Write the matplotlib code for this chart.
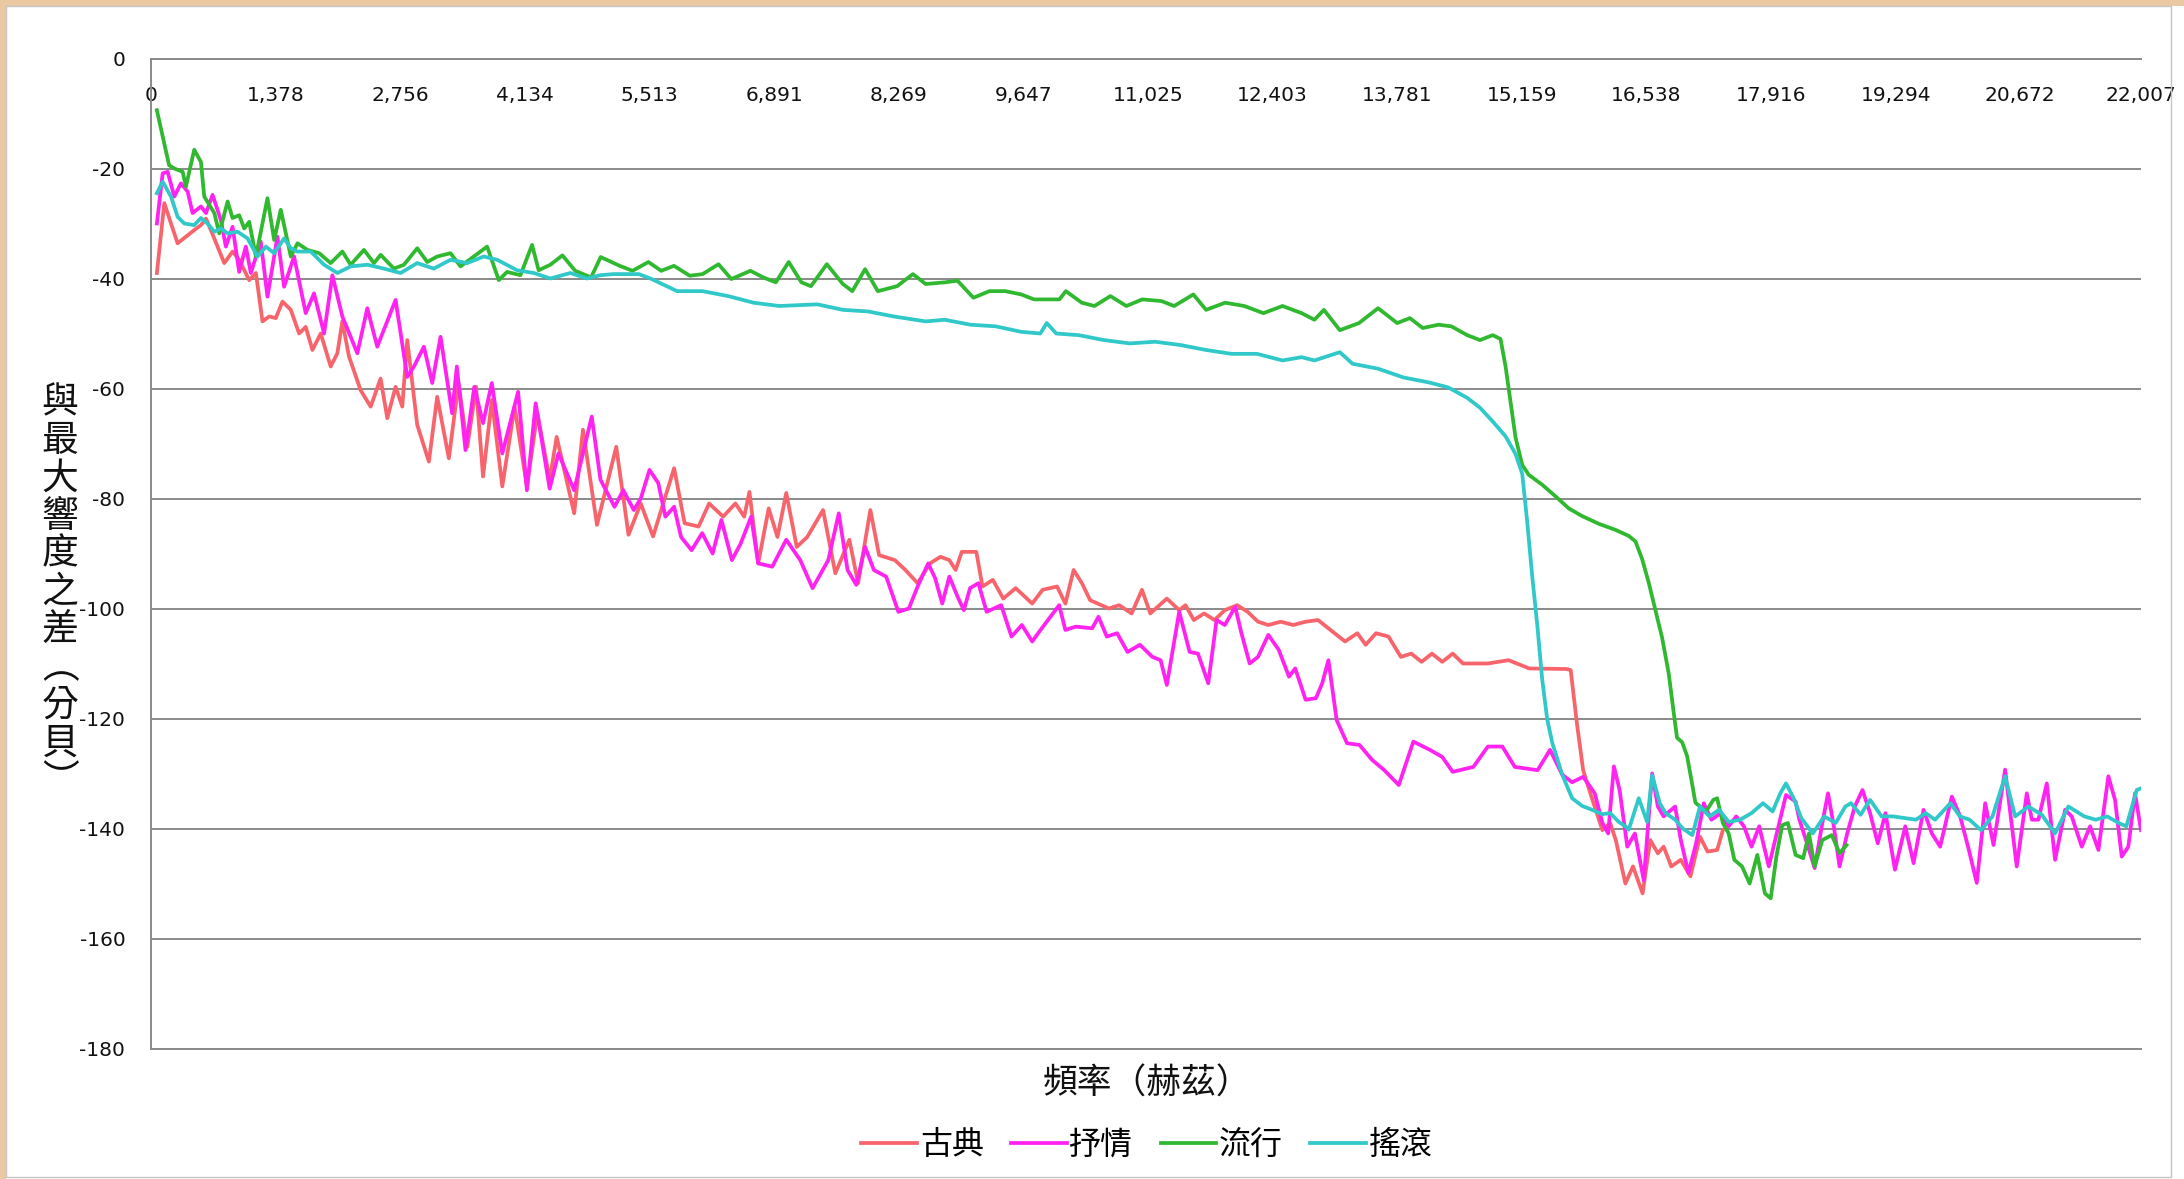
import matplotlib
matplotlib.use("Agg")
import matplotlib.pyplot as plt
from matplotlib.patches import Rectangle

plt.rcParams['font.family'] = ['Noto Sans CJK TC', 'DejaVu Sans']
plt.rcParams['axes.unicode_minus'] = False

W, H = 2184, 1179

genres = ["古典", "抒情", "流行", "搖滾"]
colors = ["#f8646c", "#ff22f0", "#30b830", "#30c8c8"]

tick_hz = [0, 1378, 2756, 4134, 5513, 6891, 8269, 9647, 11025, 12403,
           13781, 15159, 16538, 17916, 19294, 20672, 22007]
y_ticks = [0, -20, -40, -60, -80, -100, -120, -140, -160, -180]

y_title = "與最大響度之差︵分貝︶"
x_title = "頻率（赫茲）"

# 古典
classical_hz = [65, 147, 294, 478, 552, 608, 662, 810, 902, 975,
                1086, 1160, 1233, 1307, 1380, 1454, 1546, 1638, 1711, 1785,
                1877, 1987, 2061, 2116, 2190, 2318, 2429, 2539, 2613, 2705,
                2779, 2834, 2944, 3073, 3165, 3294, 3401, 3498, 3595, 3672,
                3769, 3885, 4021, 4157, 4273, 4409, 4486, 4680, 4777, 4932,
                5145, 5281, 5416, 5552, 5785, 5901, 6056, 6172, 6327, 6463,
                6560, 6618, 6715, 6831, 6928, 7025, 7141, 7257, 7432, 7568,
                7723, 7820, 7955, 8052, 8226, 8343, 8478, 8614, 8730, 8829,
                8898, 8966, 9127, 9195, 9310, 9425, 9562, 9745, 9860, 10020,
                10112, 10203, 10295, 10386, 10593, 10707, 10845, 10959, 11051, 11234,
                11371, 11440, 11532, 11646, 11761, 11875, 12013, 12127, 12242, 12356,
                12494, 12631, 12769, 12906, 13021, 13204, 13341, 13433, 13547, 13685,
                13822, 13937, 14051, 14166, 14280, 14395, 14509, 14784, 15013, 15242,
                15654, 15700, 15769, 15838, 15929, 16051, 16136, 16199, 16305, 16389,
                16495, 16580, 16664, 16728, 16812, 16918, 17024, 17130, 17214, 17320,
                17383]
classical_db = [-39, -26.3, -33.6, -31.2, -30.3, -29.1, -31.2, -37.2, -35.1, -36.6,
                -40.3, -39, -47.8, -46.9, -47.2, -44.2, -45.7, -50, -48.8, -53,
                -50, -56, -53.6, -47.8, -54.2, -60.3, -63.3, -58.2, -65.4, -59.7,
                -63.3, -51.2, -66.6, -73.3, -61.5, -72.7, -59, -70.6, -59.7, -76,
                -62.1, -77.8, -63.3, -77.8, -64.5, -76.6, -68.8, -82.7, -67.5, -84.8,
                -70.6, -86.6, -80.9, -86.9, -74.5, -84.5, -85.1, -80.9, -83.3, -80.9,
                -83.3, -78.8, -91.8, -81.8, -87, -79, -88.8, -87, -82.1, -93.6,
                -87.5, -95.4, -82.1, -90.3, -91.2, -93, -95.4, -91.8, -90.6, -91.2,
                -93, -89.7, -89.7, -96, -94.8, -98.2, -96.3, -99.1, -96.6, -96,
                -99.1, -93, -95.4, -98.5, -100, -99.4, -100.9, -96.6, -100.9, -98.2,
                -100.3, -99.4, -102.1, -100.9, -102.1, -100.3, -99.4, -100.6, -102.4, -103,
                -102.4, -103, -102.4, -102.1, -103.6, -106, -104.5, -106.6, -104.5, -105.1,
                -108.8, -108.2, -109.7, -108.2, -109.7, -108.2, -110, -110, -109.4, -110.9,
                -111, -111.2, -120.9, -129.4, -134.2, -140.3, -139, -142.1, -150, -146.9,
                -151.8, -142.1, -144.5, -143.3, -146.9, -145.7, -148.7, -141.5, -144.2, -143.9,
                -140.3]

# 抒情
lyric_hz = [65, 129, 184, 258, 331, 405, 460, 552, 608, 681,
            773, 828, 902, 975, 1049, 1104, 1214, 1288, 1398, 1472,
            1582, 1711, 1803, 1914, 2006, 2116, 2282, 2392, 2502, 2705,
            2834, 2908, 3018, 3110, 3202, 3330, 3382, 3478, 3575, 3672,
            3769, 3885, 4060, 4157, 4254, 4409, 4506, 4680, 4874, 4971,
            5126, 5223, 5339, 5416, 5513, 5610, 5688, 5785, 5862, 5978,
            6095, 6211, 6308, 6424, 6521, 6637, 6715, 6870, 7025, 7180,
            7316, 7490, 7606, 7703, 7800, 7897, 7994, 8130, 8265, 8381,
            8478, 8595, 8672, 8750, 8829, 8921, 8989, 9058, 9150, 9241,
            9402, 9516, 9631, 9745, 9837, 10043, 10112, 10226, 10409, 10478,
            10570, 10684, 10799, 10936, 11074, 11165, 11234, 11371, 11486, 11578,
            11692, 11784, 11875, 11990, 12059, 12150, 12242, 12356, 12471, 12585,
            12654, 12769, 12883, 12952, 13021, 13112, 13227, 13364, 13502, 13639,
            13799, 13960, 14143, 14280, 14395, 14624, 14784, 14944, 15082, 15334,
            15472, 15606, 15716, 15838, 15966, 16051, 16115, 16178, 16241, 16326,
            16410, 16508, 16601, 16664, 16728, 16855, 16918, 17002, 17087, 17172,
            17256, 17362, 17447, 17531, 17616, 17700, 17785, 17891, 17997, 18081,
            18187, 18229, 18314, 18398, 18483, 18546, 18610, 18673, 18758, 18842,
            18927, 19011, 19096, 19181, 19286, 19400, 19492, 19602, 19694, 19786,
            19915, 20007, 20099, 20191, 20284, 20376, 20504, 20633, 20744, 20800,
            20873, 20965, 21057, 21168, 21241, 21352, 21444, 21536, 21646, 21720,
            21794, 21867, 21941, 22007]
lyric_db = [-30, -20.9, -20.6, -25.1, -22.7, -24.2, -28.1, -26.9, -28.1, -24.8,
            -29.4, -34.2, -30.6, -38.8, -34.2, -39, -33.3, -43.3, -32.4, -41.5,
            -36, -46.3, -42.7, -50, -39.4, -46.9, -53.6, -45.4, -52.4, -43.9,
            -57.9, -56, -52.4, -59, -50.6, -64.5, -56, -71.2, -59.7, -66.3,
            -59, -71.8, -60.6, -78.5, -62.7, -78.2, -71.8, -78.5, -65.1, -76.6,
            -81.5, -78.5, -82.1, -80, -74.8, -77.2, -83.3, -81.5, -87, -89.4,
            -86.3, -90, -83.9, -91.2, -88.2, -83.3, -91.8, -92.4, -87.5, -91.2,
            -96.3, -91.2, -82.7, -93, -95.7, -88.8, -93, -94.2, -100.6, -100,
            -96, -91.8, -94.5, -99.1, -94.2, -97.9, -100.3, -96.3, -95.4, -100.6,
            -99.4, -105.1, -103, -106, -103.9, -99.4, -103.9, -103.3, -103.6, -101.5,
            -105.1, -104.5, -107.9, -106.6, -108.8, -109.4, -113.9, -100.6, -107.9, -108.2,
            -113.6, -102.1, -103, -99.7, -104.5, -110, -108.8, -104.8, -107.5, -112.4,
            -110.9, -116.6, -116.3, -113.6, -109.4, -120.3, -124.5, -124.8, -127.5, -129.4,
            -132.1, -124.2, -125.7, -127, -129.7, -128.8, -125.1, -125.1, -128.8, -129.4,
            -125.7, -130.2, -131.6, -130.6, -133.6, -139, -140.9, -128.7, -133, -143.3,
            -140.9, -149.4, -130, -136, -137.8, -136, -142.1, -148.1, -142.7, -135.4,
            -138.4, -137.2, -139.6, -137.8, -139.6, -143.3, -139.6, -146.9, -139.6, -133.9,
            -135.1, -138.4, -142.7, -147.2, -139, -133.6, -139.6, -146.9, -140.9, -136,
            -133, -137.2, -142.7, -137.2, -147.5, -139.6, -146.3, -136.6, -140.9, -143.3,
            -134.2, -137.8, -143.6, -149.9, -135.4, -143, -129.3, -146.9, -133.6, -138.4,
            -138.4, -131.8, -145.7, -136.6, -137.8, -143.3, -139.6, -143.9, -130.5, -134.8,
            -145.1, -143.3, -133.6, -140.3]

# 流行
pop_hz = [65, 200, 258, 350, 386, 478, 552, 589, 700, 755,
          847, 902, 975, 1031, 1086, 1160, 1288, 1362, 1435, 1546,
          1620, 1730, 1860, 1987, 2116, 2208, 2355, 2466, 2540, 2686,
          2797, 2944, 3055, 3165, 3312, 3423, 3570, 3717, 3846, 3938,
          4085, 4214, 4287, 4416, 4550, 4691, 4867, 4973, 5184, 5325,
          5501, 5642, 5783, 5959, 6100, 6276, 6417, 6629, 6770, 6910,
          7052, 7193, 7298, 7474, 7651, 7756, 7897, 8038, 8250, 8426,
          8567, 8778, 8919, 9095, 9271, 9448, 9624, 9765, 10046, 10117,
          10293, 10434, 10610, 10786, 10963, 11174, 11315, 11527, 11668, 11879,
          12090, 12302, 12513, 12724, 12866, 12971, 13147, 13359, 13570, 13781,
          13922, 14063, 14239, 14380, 14556, 14697, 14838, 14924, 14980, 15035,
          15090, 15164, 15237, 15385, 15532, 15679, 15827, 16011, 16195, 16342,
          16416, 16490, 16563, 16637, 16711, 16784, 16839, 16876, 16932, 16987,
          17042, 17079, 17130, 17193, 17277, 17320, 17383, 17447, 17510, 17595,
          17679, 17764, 17848, 17912, 17975, 18039, 18102, 18187, 18271, 18335,
          18398, 18483, 18588, 18673, 18750]
pop_db = [-9.4, -19.4, -20, -20.6, -23.3, -16.6, -18.8, -25.1, -28.1, -31.8,
          -26, -29, -28.5, -30.9, -29.7, -36, -25.4, -33, -27.5, -36,
          -33.6, -34.8, -35.4, -37.2, -35.1, -37.5, -34.8, -37.2, -35.7, -38.2,
          -37.5, -34.5, -37, -36, -35.4, -37.8, -36, -34.2, -40.3, -38.8,
          -39.4, -33.9, -38.5, -37.5, -35.8, -38.6, -39.8, -36.1, -37.7, -38.6,
          -37, -38.6, -37.7, -39.5, -39.2, -37.4, -40.1, -38.6, -39.8, -40.7,
          -37, -40.7, -41.4, -37.4, -41, -42.3, -38.3, -42.3, -41.4, -39.2,
          -41, -40.7, -40.4, -43.5, -42.3, -42.3, -42.9, -43.8, -43.8, -42.3,
          -44.4, -45, -43.2, -45, -43.8, -44.1, -45, -42.9, -45.7, -44.4,
          -45, -46.3, -45, -46.3, -47.5, -45.7, -49.4, -48.1, -45.4, -48.1,
          -47.2, -49, -48.4, -48.7, -50.3, -51.2, -50.3, -51, -56, -62.5,
          -68.9, -73.9, -75.7, -77.5, -79.6, -81.8, -83.2, -84.6, -85.7, -86.8,
          -87.8, -91, -95.3, -100.3, -105.3, -111.8, -118.9, -123.5, -124.3, -126.8,
          -131.8, -135.3, -136, -137, -134.8, -134.5, -139, -140.9, -145.7, -146.9,
          -150, -144.8, -151.8, -152.7, -145.1, -139.4, -139, -144.8, -145.4, -140.9,
          -146.9, -142.1, -141.2, -144.5, -143]

# 搖滾
rock_hz = [65, 129, 221, 295, 368, 478, 552, 626, 700, 773,
           847, 958, 1067, 1178, 1270, 1362, 1472, 1546, 1620, 1767,
           1914, 2061, 2208, 2392, 2576, 2760, 2944, 3128, 3312, 3496,
           3680, 3828, 4048, 4232, 4416, 4637, 4821, 4968, 5114, 5396,
           5537, 5818, 6100, 6382, 6664, 6946, 7369, 7651, 7933, 8214,
           8567, 8778, 9060, 9342, 9624, 9835, 9906, 10011, 10258, 10540,
           10822, 11104, 11386, 11668, 11949, 12231, 12513, 12724, 12866, 13147,
           13288, 13570, 13852, 14134, 14345, 14556, 14697, 14838, 14980, 15090,
           15164, 15219, 15275, 15330, 15385, 15440, 15496, 15606, 15716, 15827,
           15937, 16048, 16136, 16232, 16305, 16342, 16453, 16545, 16601, 16685,
           16749, 16855, 16939, 17045, 17130, 17235, 17341, 17447, 17574, 17700,
           17827, 17933, 18018, 18081, 18166, 18250, 18377, 18504, 18631, 18737,
           18800, 18906, 19011, 19138, 19265, 19392, 19519, 19625, 19730, 19899,
           20005, 20111, 20238, 20365, 20504, 20615, 20762, 20910, 21057, 21204,
           21380, 21506, 21633, 21760, 21845, 21960, 22007]
rock_db = [-24.5, -22.4, -25.1, -28.8, -30, -30.3, -29, -30, -31.5, -30.9,
           -31.8, -31.5, -32.7, -36, -34.2, -35.4, -32.7, -34.5, -35.1, -35.1,
           -37.5, -39, -37.8, -37.5, -38.2, -39, -37.2, -38.2, -36.6, -37.2,
           -36, -36.6, -38.5, -39, -40, -39, -40, -39.4, -39.2, -39.2,
           -40.1, -42.3, -42.3, -43.2, -44.4, -45, -44.7, -45.7, -46, -46.9,
           -47.8, -47.5, -48.4, -48.7, -49.7, -50, -48.1, -50, -50.3, -51.2,
           -51.8, -51.5, -52.1, -53, -53.7, -53.7, -54.9, -54.3, -54.9, -53.4,
           -55.5, -56.4, -58, -58.9, -59.8, -61.7, -63.5, -66, -68.7, -71.9,
           -75.5, -84.2, -94.2, -102.9, -112.9, -120.1, -124.4, -130.2, -134.5, -135.9,
           -136.6, -137.4, -137.2, -138.8, -139.6, -140.2, -134.5, -138.8, -130.3, -135.4,
           -137.2, -138.4, -140, -141.2, -136, -137.8, -136.6, -138.8, -138.4, -137.2,
           -135.4, -136.9, -133.6, -131.8, -134.5, -138.1, -140.9, -137.8, -139, -136,
           -135.4, -137.5, -134.8, -137.8, -137.8, -138.1, -138.4, -137.2, -138.4, -135.4,
           -137.8, -138.4, -140.3, -137.8, -130.5, -137.8, -136, -137.5, -140.9, -136,
           -137.8, -138.4, -137.8, -139, -139.6, -133, -132.7]


def px_rect(x0, y0, x1, y1, **kw):
    # rectangle given in pixels from the top-left corner
    return Rectangle((x0 / W, 1 - y1 / H), (x1 - x0) / W, (y1 - y0) / H,
                     transform=fig.transFigure, **kw)


fig = plt.figure(figsize=(W / 100, H / 100), dpi=100, facecolor="white")

# tan window edge and the chart-area border
fig.add_artist(px_rect(0, 0, 6, H, facecolor="#eac8a2", edgecolor="none"))
fig.add_artist(px_rect(0, 0, W, 6, facecolor="#eac8a2", edgecolor="none"))
fig.add_artist(px_rect(6, 6, 2171, 1177, facecolor="none", edgecolor="#c4c4c4", linewidth=1))

ax = fig.add_axes([151 / W, 1 - 1048.5 / H, (2141 - 151) / W, (1048.5 - 58.5) / H])
ax.set_facecolor("white")

series = [(classical_hz, classical_db), (lyric_hz, lyric_db),
          (pop_hz, pop_db), (rock_hz, rock_db)]
for (hz, db), name, c in zip(series, genres, colors):
    ax.plot(hz, db, color=c, linewidth=2.7, label=name, solid_joinstyle="round")

ax.set_xlim(0, 22007)
ax.set_ylim(-180, 0)

grid_c = "#8a8a8a"
ax.set_yticks(y_ticks)
ax.set_yticklabels([str(v) for v in y_ticks], family="DejaVu Sans", fontsize=14.5, color="#111111")
ax.yaxis.grid(True, color=grid_c, linewidth=1.4)
ax.set_axisbelow(True)

ax.set_xticks(tick_hz)
ax.set_xticklabels([f"{v:,}" for v in tick_hz], family="DejaVu Sans", fontsize=14.5, color="#111111")
ax.xaxis.set_ticks_position("top")
ax.tick_params(axis="x", length=0, pad=-33.5, labeltop=True, labelbottom=False)
ax.tick_params(axis="y", length=0, pad=18.5)

for side in ["top", "bottom", "left"]:
    ax.spines[side].set_color(grid_c)
    ax.spines[side].set_linewidth(1.4)
ax.spines["right"].set_visible(False)

# vertical y title, one character per row
for i, ch in enumerate(y_title):
    fig.text(60 / W, 1 - (403 + 37.8 * i) / H, ch, fontsize=26.5,
             ha="center", va="center", color="#111111")

fig.text(1147 / W, 1 - 1084 / H, x_title, fontsize=25, ha="center", va="center",
         color="#111111")

leg = fig.legend(loc="center", bbox_to_anchor=(1147 / W, 1 - 1145 / H), ncol=4,
                 frameon=False, fontsize=23, handlelength=1.75, handletextpad=0.08,
                 columnspacing=0.85)
for line in leg.get_lines():
    line.set_linewidth(2.7)

fig.savefig("out.png", dpi=100, facecolor=fig.get_facecolor())
